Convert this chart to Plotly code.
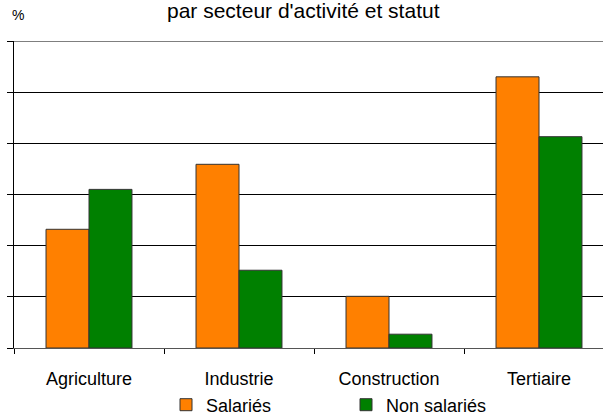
import plotly.graph_objects as go

categories = ["Agriculture", "Industrie", "Construction", "Tertiaire"]
salaries = [23.2, 35.9, 10.1, 53.0]
non_salaries = [31.0, 15.2, 2.7, 41.3]

FONT = "Liberation Sans, Arial, sans-serif"

fig = go.Figure()
fig.add_trace(go.Bar(name="Salariés", x=categories, y=salaries,
                     marker=dict(color="#FF8000", line=dict(color="#333333", width=1))))
fig.add_trace(go.Bar(name="Non salariés", x=categories, y=non_salaries,
                     marker=dict(color="#008000", line=dict(color="#333333", width=1))))

fig.update_layout(
    width=603, height=416,
    margin=dict(l=14, r=0, t=41, b=68, autoexpand=False),
    paper_bgcolor="white", plot_bgcolor="white",
    font=dict(family=FONT, size=18, color="black"),
    barmode="group", bargap=0.427, bargroupgap=0,
    showlegend=True,
    legend=dict(orientation="h", x=(166 - 14) / 589, xanchor="left", y=-(405 - 348) / 307,
                yanchor="middle", font=dict(size=18), entrywidth=135, itemwidth=30,
                bgcolor="rgba(0,0,0,0)"),
    annotations=[
        dict(text="par secteur d'activité et statut", xref="paper", yref="paper",
             x=(303 - 14) / 589, y=1 + (41 - 11) / 307, showarrow=False,
             xanchor="center", yanchor="middle", font=dict(size=21)),
        dict(text="%", xref="paper", yref="paper", x=-4 / 589, y=1 + (41 - 15) / 307,
             showarrow=False, xanchor="left", yanchor="middle", font=dict(size=14)),
    ],
)
fig.update_xaxes(range=[-0.5, 3.5 - 11 / 150], showline=True, linecolor="#555555", linewidth=1,
                 ticks="outside", ticklen=5, tickcolor="black", tickson="boundaries",
                 showgrid=False, ticklabelstandoff=14, tickfont=dict(size=18))
fig.update_yaxes(range=[0, 60], dtick=10, showgrid=True, gridcolor="black", gridwidth=1,
                 showline=True, linecolor="black", linewidth=1, ticks="outside", ticklen=6,
                 tickcolor="black", showticklabels=False, zeroline=False, mirror=False)
fig.add_hline(y=60, line=dict(color="black", width=1))

fig.write_html("out.html", config={"displayModeBar": False},
               post_script="document.body.style.margin='0';")
